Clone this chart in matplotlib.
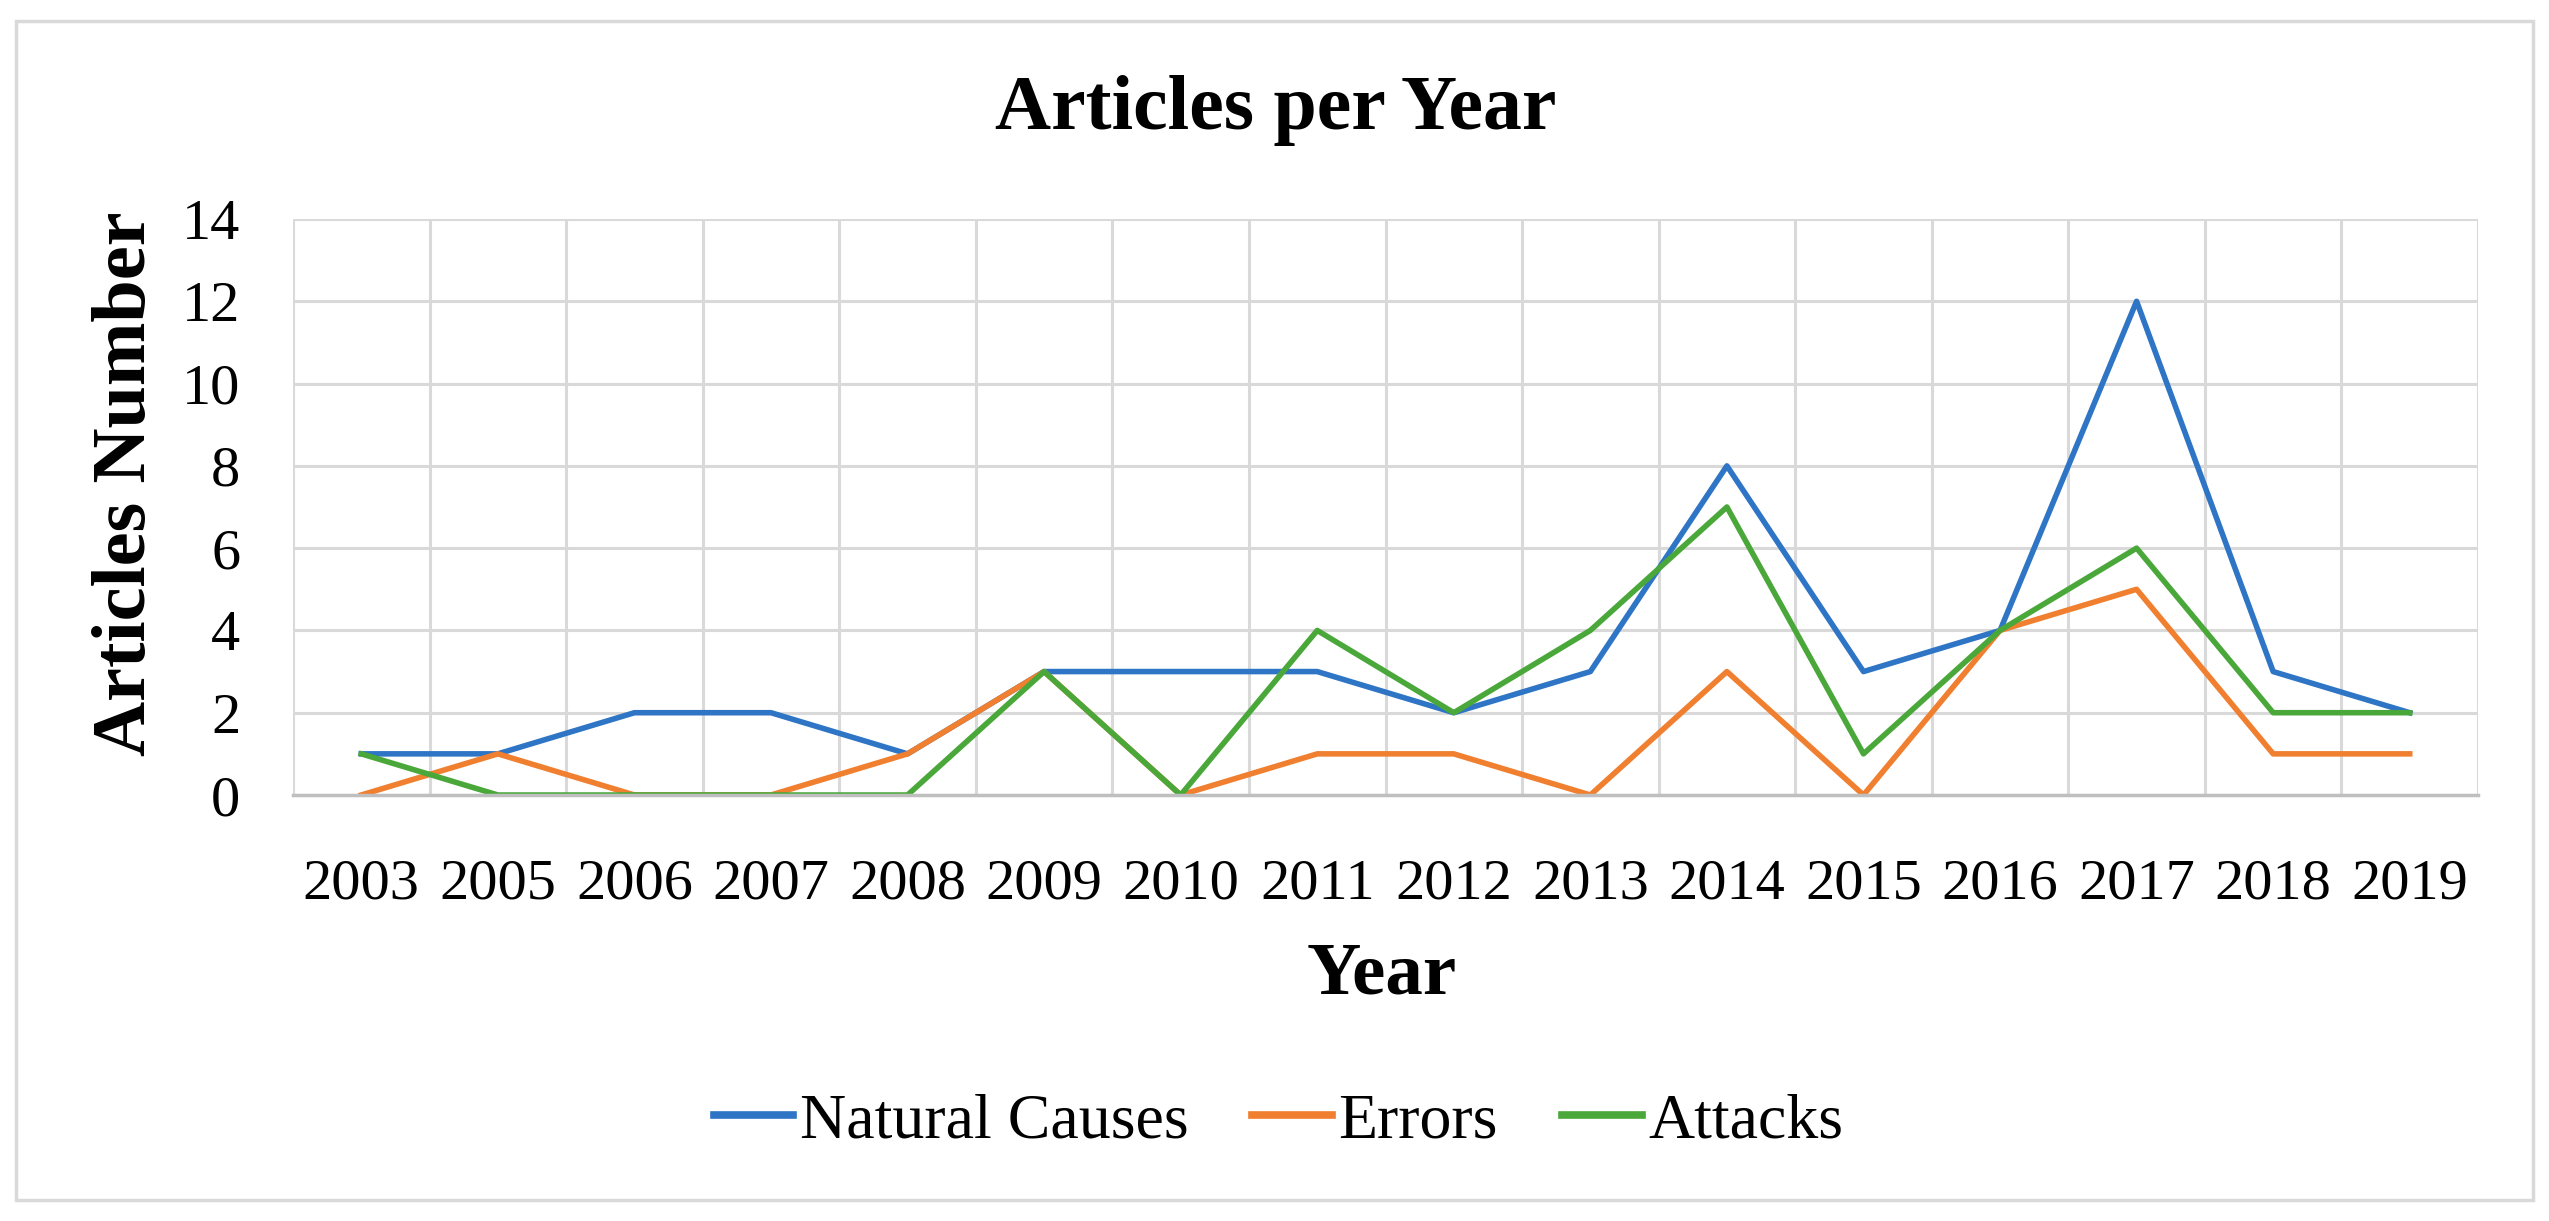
import matplotlib
matplotlib.use("Agg")
import matplotlib.pyplot as plt
from matplotlib.patches import Rectangle
from matplotlib.ticker import MultipleLocator, FixedLocator

years = ["2003", "2005", "2006", "2007", "2008", "2009", "2010", "2011",
         "2012", "2013", "2014", "2015", "2016", "2017", "2018", "2019"]
natural_causes = [1, 1, 2, 2, 1, 3, 3, 3, 2, 3, 8, 3, 4, 12, 3, 2]
errors = [0, 1, 0, 0, 1, 3, 0, 1, 1, 0, 3, 0, 4, 5, 1, 1]
attacks = [1, 0, 0, 0, 0, 3, 0, 4, 2, 4, 7, 1, 4, 6, 2, 2]

plt.rcParams['font.family'] = ['Liberation Serif', 'DejaVu Serif']

W, H = 2549, 1221
fig = plt.figure(figsize=(W / 100, H / 100), dpi=100)
ax = fig.add_axes([293 / W, 1 - 795 / H, (2478 - 293) / W, (795 - 219) / H])

x = list(range(len(years)))
lw = 4.0
ax.plot(x, natural_causes, color='#2f75c5', lw=lw, label='Natural Causes')
ax.plot(x, errors, color='#f07f2f', lw=lw, label='Errors')
ax.plot(x, attacks, color='#4aa83a', lw=lw, label='Attacks')

ax.set_xlim(-0.5, len(years) - 0.5)
ax.set_ylim(0, 14)
ax.xaxis.set_major_locator(FixedLocator(x))
ax.set_xticklabels(years)
ax.xaxis.set_minor_locator(FixedLocator([i - 0.5 for i in range(len(years) + 1)]))
ax.yaxis.set_major_locator(MultipleLocator(2))

ax.grid(True, which='minor', axis='x', color='#d9d9d9', lw=2.2)
ax.grid(True, which='major', axis='y', color='#d9d9d9', lw=2.2)
ax.set_axisbelow(True)
for s in ['top', 'right', 'left']:
    ax.spines[s].set_visible(False)
ax.spines['bottom'].set_color('#bfbfbf')
ax.spines['bottom'].set_linewidth(2.5)

ax.tick_params(axis='x', which='both', length=0, pad=46, labelsize=42)
ax.tick_params(axis='y', which='both', length=0, pad=38, labelsize=42)

fig.text(0.5006, 1 - 110 / H, 'Articles per Year', ha='center', va='center',
         fontsize=56, fontweight='bold')
fig.text(127 / W, 1 - 484 / H, 'Articles Number', ha='center', va='center',
         rotation=90, fontsize=55, fontweight='bold')
fig.text(1382 / W, 1 - 975 / H, 'Year', ha='center', va='center',
         fontsize=54, fontweight='bold')

leg = fig.legend(loc='center', bbox_to_anchor=(0.5015, 1 - 1122 / H), ncol=3,
                 frameon=False, fontsize=46, handlelength=1.25, handletextpad=0.1,
                 columnspacing=1.0)
for h in leg.get_lines():
    h.set_linewidth(5.5)

fig.patches.append(Rectangle((16 / W, 1 - 1200 / H), (2533 - 16) / W, (1200 - 21) / H,
                             transform=fig.transFigure, fill=False,
                             edgecolor='#d9d9d9', lw=2.5))

fig.savefig('out.png', dpi=100, facecolor='white')
